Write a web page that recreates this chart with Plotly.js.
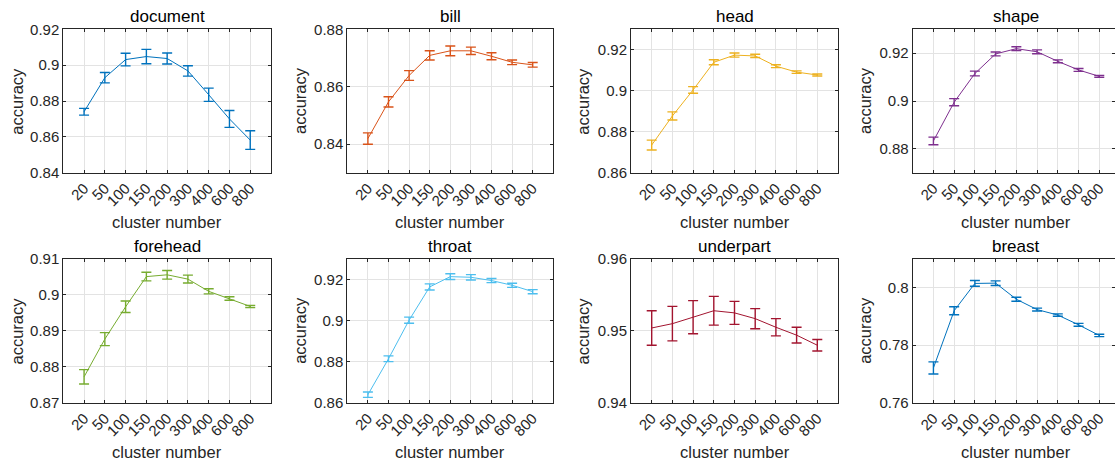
<!DOCTYPE html>
<html>
<head>
<meta charset="utf-8">
<script src="https://cdn.plot.ly/plotly-3.0.1.min.js"></script>
<style>html,body{margin:0;padding:0;background:#fff;}#chart{width:1115px;height:463px;}</style>
</head>
<body>
<div id="chart"></div>
<script>
// ---------- data ----------
const clusters = ["20","50","100","150","200","300","400","600","800"];
const panelTitles = ["document","bill","head","shape","forehead","throat","underpart","breast"];

const documentAcc = [0.8740,0.8930,0.9031,0.9048,0.9037,0.8968,0.8835,0.8700,0.8582];
const documentErr = [0.0019,0.0029,0.0035,0.0040,0.0031,0.0029,0.0037,0.0047,0.0052];
const billAcc = [0.8419,0.8547,0.8639,0.8709,0.8725,0.8725,0.8706,0.8685,0.8676];
const billErr = [0.0020,0.0018,0.0017,0.0016,0.0017,0.0013,0.0012,0.0008,0.0008];
const headAcc = [0.8735,0.8877,0.9004,0.9139,0.9174,0.9170,0.9120,0.9091,0.9077];
const headErr = [0.0024,0.0020,0.0016,0.0012,0.0010,0.0008,0.0007,0.0006,0.0005];
const shapeAcc = [0.8833,0.8995,0.9115,0.9197,0.9219,0.9206,0.9166,0.9130,0.9103];
const shapeErr = [0.0016,0.0015,0.0010,0.0008,0.0008,0.0008,0.0006,0.0006,0.0004];
const foreheadAcc = [0.8772,0.8877,0.8967,0.9051,0.9056,0.9044,0.9010,0.8990,0.8968];
const foreheadErr = [0.0020,0.0018,0.0016,0.0012,0.0012,0.0011,0.0007,0.0005,0.0003];
const throatAcc = [0.8639,0.8814,0.9002,0.9164,0.9214,0.9211,0.9195,0.9172,0.9141];
const throatErr = [0.0013,0.0014,0.0015,0.0015,0.0014,0.0013,0.0010,0.0010,0.0010];
const underpartAcc = [0.9504,0.9510,0.9519,0.9528,0.9525,0.9517,0.9505,0.9494,0.9480];
const underpartErr = [0.0024,0.0024,0.0023,0.0020,0.0016,0.0014,0.0012,0.0011,0.0008];
const breastAcc = [0.7721,0.7920,0.8015,0.8016,0.7960,0.7924,0.7905,0.7871,0.7834];
const breastErr = [0.0021,0.0014,0.0010,0.0008,0.0007,0.0005,0.0004,0.0005,0.0004];

const yRanges = [[0.84,0.92],[0.83,0.88],[0.86,0.93],[0.87,0.93],[0.87,0.91],[0.86,0.93],[0.94,0.96],[0.76,0.81]];
const yTicks = [
  [0.84,0.86,0.88,0.90,0.92],
  [0.84,0.86,0.88],
  [0.86,0.88,0.90,0.92],
  [0.88,0.90,0.92],
  [0.87,0.88,0.89,0.90,0.91],
  [0.86,0.88,0.90,0.92],
  [0.94,0.95,0.96],
  [0.76,0.78,0.80]
];
const yTickText = [
  ["0.84","0.86","0.88","0.9","0.92"],
  ["0.84","0.86","0.88"],
  ["0.86","0.88","0.9","0.92"],
  ["0.88","0.9","0.92"],
  ["0.87","0.88","0.89","0.9","0.91"],
  ["0.86","0.88","0.9","0.92"],
  ["0.94","0.95","0.96"],
  ["0.76","0.78","0.8"]
];
const colors = ["#0072BD","#D95319","#EDB120","#7E2F8E","#77AC30","#4DBEEE","#A2142F","#0072BD"];

const accs = [documentAcc,billAcc,headAcc,shapeAcc,foreheadAcc,throatAcc,underpartAcc,breastAcc];
const errs = [documentErr,billErr,headErr,shapeErr,foreheadErr,throatErr,underpartErr,breastErr];

// ---------- layout geometry (px) ----------
const W = 1115, H = 463;
const colX = [[63.3,271],[347.3,553.3],[631,838],[912.7,1115]];
const rowY = [[29.3,172.7],[259,402.7]];
const ylabelX = [16.7,300,582.7,865];
const titleY = [17,247];
const xlabelY = [221.5,451.5];

const traces = [];
const layout = {
  width: W, height: H,
  margin: {l:0,r:0,t:0,b:0},
  paper_bgcolor: "#fff",
  plot_bgcolor: "#fff",
  showlegend: false,
  font: {family: "Liberation Sans, Arial, sans-serif", color: "#262626", size: 15},
  annotations: []
};

for (let i = 0; i < 8; i++) {
  const r = Math.floor(i/4), c = i % 4;
  const n = i + 1;
  const xa = "xaxis" + (n === 1 ? "" : n);
  const ya = "yaxis" + (n === 1 ? "" : n);
  traces.push({
    type: "scatter", mode: "lines",
    x: clusters, y: accs[i],
    xaxis: "x" + (n === 1 ? "" : n), yaxis: "y" + (n === 1 ? "" : n),
    line: {color: colors[i], width: 1},
    error_y: {type: "data", array: errs[i], visible: true, color: colors[i], thickness: 1.4, width: 5},
    hoverinfo: "skip"
  });
  const xRangeEnd = (c === 3) ? 9 - (1120 - 1115) / ((1120 - 912.7) / 10) : 9;
  layout[xa] = {
    domain: [colX[c][0]/W, colX[c][1]/W],
    anchor: "y" + (n === 1 ? "" : n),
    type: "category",
    categoryorder: "array", categoryarray: clusters,
    range: [-1, xRangeEnd],
    tickangle: -45,
    showgrid: true, gridcolor: "#e3e3e3", gridwidth: 1,
    showline: true, linecolor: "#262626", linewidth: 1, mirror: "ticks",
    ticks: "inside", ticklen: 3, tickcolor: "#262626",
    tickfont: {size: 15, color: "#262626"},
    zeroline: false, fixedrange: true
  };
  layout[ya] = {
    domain: [(H - rowY[r][1])/H, (H - rowY[r][0])/H],
    anchor: "x" + (n === 1 ? "" : n),
    range: yRanges[i],
    tickmode: "array", tickvals: yTicks[i], ticktext: yTickText[i],
    showgrid: true, gridcolor: "#e3e3e3", gridwidth: 1,
    showline: true, linecolor: "#262626", linewidth: 1, mirror: "ticks",
    ticks: "inside", ticklen: 3, tickcolor: "#262626",
    tickfont: {size: 15, color: "#262626"},
    zeroline: false, fixedrange: true
  };
  const cx = (colX[c][0] + (c === 3 ? 1120 : colX[c][1])) / 2;
  layout.annotations.push({
    text: panelTitles[i], xref: "paper", yref: "paper",
    x: cx / W, y: (H - titleY[r]) / H, xanchor: "center", yanchor: "middle",
    showarrow: false, font: {size: 17, color: "#000"}
  });
  layout.annotations.push({
    text: "cluster number", xref: "paper", yref: "paper",
    x: cx / W, y: (H - xlabelY[r]) / H, xanchor: "center", yanchor: "middle",
    showarrow: false, font: {size: 16.5, color: "#262626"}
  });
  layout.annotations.push({
    text: "accuracy", xref: "paper", yref: "paper",
    x: ylabelX[c] / W, y: (H - (rowY[r][0] + rowY[r][1]) / 2) / H,
    xanchor: "center", yanchor: "middle", textangle: -90,
    showarrow: false, font: {size: 16.5, color: "#262626"}
  });
}

Plotly.newPlot("chart", traces, layout, {displayModeBar: false, staticPlot: true});
</script>
</body>
</html>
